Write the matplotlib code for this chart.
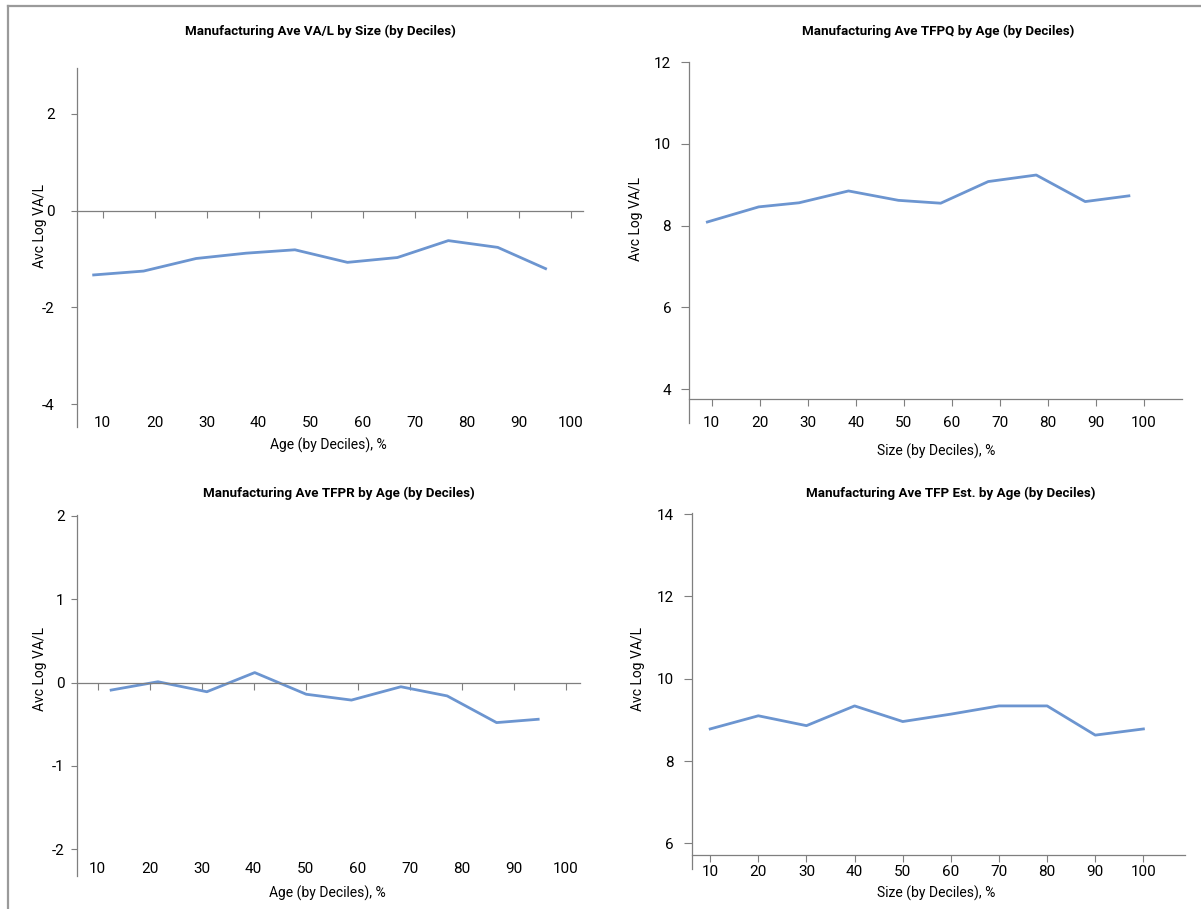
import matplotlib
matplotlib.use('Agg')
import matplotlib.pyplot as plt
from matplotlib.lines import Line2D

plt.rcParams['font.family'] = ['Roboto', 'DejaVu Sans']
plt.rcParams['axes.unicode_minus'] = False

# Data
deciles = [10, 20, 30, 40, 50, 60, 70, 80, 90, 100]
tick_labels = [str(d) for d in deciles]

va_l_x = [8.3, 17.9, 28, 37.6, 47, 57.1, 66.7, 76.5, 86, 95.2]
va_l_y = [-1.33, -1.25, -0.99, -0.88, -0.81, -1.07, -0.97, -0.62, -0.76, -1.20]

tfpq_x = [9.1, 19.8, 28.2, 38.5, 48.9, 57.7, 67.6, 77.6, 87.8, 96.9]
tfpq_y = [8.09, 8.46, 8.56, 8.85, 8.62, 8.55, 9.08, 9.24, 8.59, 8.73]

tfpr_x = [12.6, 21.6, 31, 40.2, 50.1, 58.8, 68.3, 77.2, 86.7, 94.7]
tfpr_y = [-0.09, 0.01, -0.11, 0.12, -0.14, -0.21, -0.05, -0.16, -0.48, -0.44]

tfp_est_x = deciles
tfp_est_y = [8.78, 9.10, 8.86, 9.34, 8.96, 9.14, 9.34, 9.34, 8.63, 8.78]

titles = ['Manufacturing Ave VA/L by Size (by Deciles)',
          'Manufacturing Ave TFPQ by Age (by Deciles)',
          'Manufacturing Ave TFPR by Age (by Deciles)',
          'Manufacturing Ave TFP Est. by Age (by Deciles)']
xlabels = ['Age (by Deciles), %', 'Size (by Deciles), %',
           'Age (by Deciles), %', 'Size (by Deciles), %']
ylabel = 'Avc Log VA/L'

W, H = 1201, 909
fig = plt.figure(figsize=(W / 100, H / 100), dpi=100)

line_color = '#6c95d0'
axis_color = '#7f7f7f'


def px_axes(left, right, top, bottom):
    return fig.add_axes([left / W, 1 - bottom / H, (right - left) / W, (bottom - top) / H])


def style(ax, yticks, ylim, xlim, cross, zero_style, ypad, xpad, ylen):
    ax.set_xlim(*xlim)
    ax.set_ylim(*ylim)
    ax.set_yticks(yticks)
    ax.set_xticks(deciles)
    ax.set_xticklabels(tick_labels)
    ax.spines['right'].set_visible(False)
    ax.spines['left'].set_color(axis_color)
    ax.tick_params(axis='y', direction='out', length=ylen, width=0.8, color=axis_color,
                   labelsize=11, pad=ypad)
    if zero_style:
        # horizontal axis drawn at zero, labels kept at the bottom
        ax.spines['bottom'].set_visible(False)
        ax.spines['top'].set_position(('data', cross))
        ax.spines['top'].set_color(axis_color)
        ax.tick_params(axis='x', bottom=False, top=True, labelbottom=True, labeltop=False,
                       direction='in', length=5, width=0.8, color=axis_color,
                       labelsize=11, pad=xpad)
    else:
        ax.spines['top'].set_visible(False)
        ax.spines['bottom'].set_position(('data', cross))
        ax.spines['bottom'].set_color(axis_color)
        ax.tick_params(axis='x', direction='out', length=5, width=0.8, color=axis_color,
                       labelsize=11, pad=xpad)
    for s in ax.spines.values():
        s.set_linewidth(0.9)


ax1 = px_axes(76.5, 582.5, 68, 427)
ax1.plot(va_l_x, va_l_y, color=line_color, lw=2)
style(ax1, [-4, -2, 0, 2], (-4.475, 2.95), (5, 102.3), 0, True, 11, -8, 4.5)

ax2 = px_axes(689.2, 1181.7, 61.7, 422.7)
ax2.plot(tfpq_x, tfpq_y, color=line_color, lw=2)
style(ax2, [4, 6, 8, 10, 12], (3.175, 12.015), (5.32, 107.9), 3.755, False, 7.5, 7.5, 5.5)

ax3 = px_axes(76.5, 579.8, 515, 876)
ax3.plot(tfpr_x, tfpr_y, color=line_color, lw=2)
style(ax3, [-2, -1, 0, 1, 2], (-2.32, 2.01), (5.94, 102.7), 0, True, 4, -10, 4.5)

ax4 = px_axes(691.8, 1184.8, 513, 869)
ax4.plot(tfp_est_x, tfp_est_y, color=line_color, lw=2)
style(ax4, [6, 8, 10, 12, 14], (5.375, 14.03), (6.18, 108.6), 5.716, False, 7.5, 2.5, 5.5)

# Titles and axis labels placed in pixel positions
title_pos = [(320, 31.7), (938, 31.7), (339, 493.3), (950.5, 493.3)]
xlabel_pos = [(328, 445), (936.6, 451.7), (327, 893), (936.6, 893.3)]
ylabel_pos = [(40, 226), (636.4, 219), (40, 669), (638, 669)]

for t, (x, y) in zip(titles, title_pos):
    fig.text(x / W, 1 - y / H, t, ha='center', va='center', fontsize=9.6, fontweight='bold')
for t, (x, y) in zip(xlabels, xlabel_pos):
    fig.text(x / W, 1 - y / H, t, ha='center', va='center', fontsize=10)
for (x, y) in ylabel_pos:
    fig.text(x / W, 1 - y / H, ylabel, ha='center', va='center', fontsize=10, rotation=90)

# Outer frame lines (top and left edges)
fig.add_artist(Line2D([7.5 / W, 1], [1 - 5.5 / H, 1 - 5.5 / H], color='#9a9a9a', lw=1.6,
                      transform=fig.transFigure))
fig.add_artist(Line2D([7.5 / W, 7.5 / W], [1 - 5.5 / H, 0], color='#9a9a9a', lw=1.6,
                      transform=fig.transFigure))

fig.savefig('out.png', dpi=100)
